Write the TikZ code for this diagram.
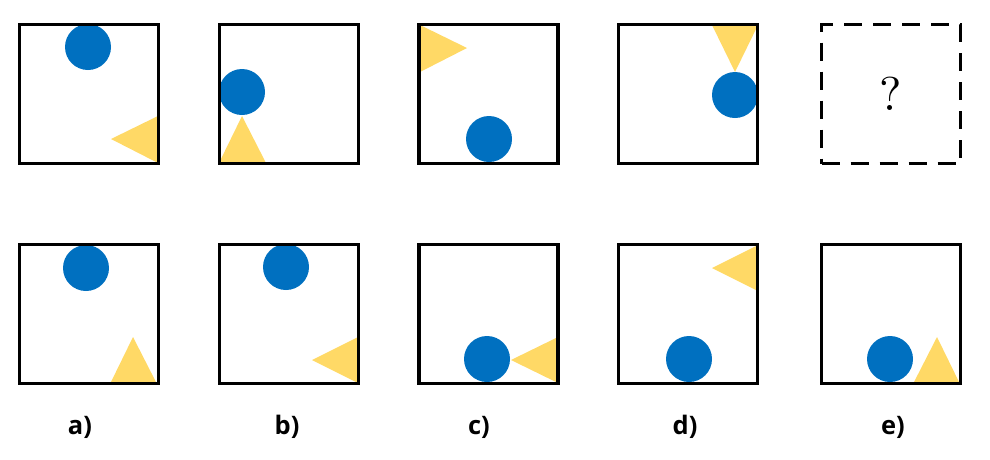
\documentclass[tikz,border=0pt]{standalone}
\usepackage{fontspec}
\usepackage{xcolor}
\usepackage{tikz}
\newfontfamily\labelfont{Open Sans}
\newfontfamily\qfont{lmroman10-regular.otf}
\definecolor{shapeblue}{HTML}{0070C0}
\definecolor{shapegold}{HTML}{FFD966}

\begin{document}
\begin{tikzpicture}[x=0.2mm, y=-0.2mm,
box/.style={draw, line width=1.8pt, minimum size=2.78cm, inner sep=0pt},
qbox/.style={box, dash pattern=on 0.36cm off 0.22cm},
dot/.style={circle, fill=shapeblue, minimum size=0.92cm, inner sep=0pt},
tri/.style={fill=shapegold},
lbl/.style={font=\labelfont\bfseries\fontsize{14.5}{17}\selectfont}]
\useasboundingbox (0,0) rectangle (990,459);
% shapes, top row
\node[dot] (c1) at (88,47) {};
\fill[tri] (111,139) -- (158,116) -- (158,163) -- cycle;
\node[dot] (c2) at (242,92) {};
\fill[tri] (242,116) -- (219,163) -- (266,163) -- cycle;
\node[dot] (c3) at (489,139) {};
\fill[tri] (420,25) -- (420,72) -- (467,48) -- cycle;
\node[dot] (c4) at (735,95) {};
\fill[tri] (712,25) -- (758,25) -- (735,72) -- cycle;
% shapes, answers
\node[dot] (a1) at (86,268) {};
\fill[tri] (133,337) -- (110,384) -- (157,384) -- cycle;
\node[dot] (a2) at (286,267) {};
\fill[tri] (312,360) -- (358,337) -- (358,383) -- cycle;
\node[dot] (a3) at (487,359) {};
\fill[tri] (511,360) -- (558,337) -- (558,383) -- cycle;
\node[dot] (a4) at (689,359) {};
\fill[tri] (712,268) -- (758,245) -- (758,291) -- cycle;
\node[dot] (a5) at (890,359) {};
\fill[tri] (937,337) -- (913,384) -- (960,384) -- cycle;
% frames
\foreach \x [count=\i] in {89,289,488.5,688} {
  \node[box] (top\i) at (\x,94) {};
}
\node[qbox] (top5) at (891,94) {\qfont\fontsize{27}{32}\selectfont ?};
\foreach \x [count=\i] in {89,289,488.5,688,891} {
  \node[box] (ans\i) at (\x,314) {};
}
% labels
\node[lbl] (la) at (80,427) {a)};
\node[lbl] (lb) at (287,427) {b)};
\node[lbl] (lc) at (479,427) {c)};
\node[lbl] (ld) at (685,427) {d)};
\node[lbl] (le) at (893,427) {e)};
\end{tikzpicture}
\end{document}
